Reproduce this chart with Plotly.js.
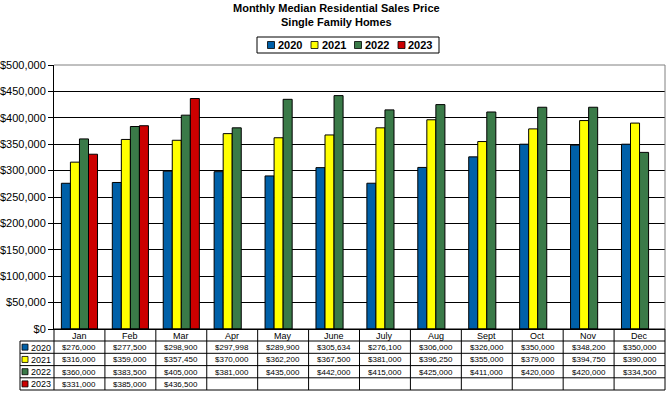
<!DOCTYPE html>
<html>
<head>
<meta charset="utf-8">
<script src="https://cdn.plot.ly/plotly-3.0.1.min.js"></script>
<style>html,body{margin:0;padding:0;background:#fff;}#chart{width:668px;height:393px;}</style>
</head>
<body>
<div id="chart"></div>
<script>
const months = ['Jan','Feb','Mar','Apr','May','June','July','Aug','Sept','Oct','Nov','Dec'];
const years = ['2020','2021','2022','2023'];
const v2020 = [276000, 277500, 298900, 297998, 289900, 305634, 276100, 306000, 326000, 350000, 348200, 350000];
const v2021 = [316000, 359000, 357450, 370000, 362200, 367500, 381000, 396250, 355000, 379000, 394750, 390000];
const v2022 = [360000, 383500, 405000, 381000, 435000, 442000, 415000, 425000, 411000, 420000, 420000, 334500];
const v2023 = [331000, 385000, 436500, null, null, null, null, null, null, null, null, null];
const titleLines = ['Monthly Median Residential Sales Price', 'Single Family Homes'];
const colors = ['#0060A8', '#FFFF00', '#3A7A48', '#CC0000'];
const series = [v2020, v2021, v2022, v2023];

// layout geometry (pixels)
const W = 668, H = 393;
const L = 54, R = 665, T = 65, B = 329;
const pw = R - L, ph = B - T;
const px = x => (x - L) / pw;
const py = y => (B - y) / ph;
const rowLines = [329, 341, 353.3, 365.6, 377.8, 390];
const tableLeft = 20;
const FF = 'Arial, Liberation Sans, sans-serif';

const traces = series.map((vals, i) => ({
  type: 'bar', x: months, y: vals, name: years[i],
  marker: {color: colors[i], line: {color: '#000', width: 1}},
  showlegend: false, hoverinfo: 'x+y+name'
}));

const shapes = [];
const annotations = [];
const fmt = v => '$' + v.toLocaleString('en-US');

// plot border top/right gray
shapes.push({type:'line', xref:'paper', yref:'paper', x0:0, x1:1, y0:1, y1:1, line:{color:'#808080', width:1}, layer:'above'});
shapes.push({type:'line', xref:'paper', yref:'paper', x0:1, x1:1, y0:0, y1:1, line:{color:'#808080', width:1}, layer:'above'});

// table horizontal lines
rowLines.forEach((y, k) => {
  shapes.push({type:'line', xref:'paper', yref:'paper', x0: k === 0 ? 0 : px(tableLeft), x1: 1, y0: py(y), y1: py(y), line:{color:'#000', width:1}});
});
// vertical lines
for (let k = 0; k <= months.length; k++) {
  shapes.push({type:'line', xref:'paper', yref:'paper', x0: k / months.length, x1: k / months.length, y0: py(rowLines[0]), y1: py(rowLines[5]), line:{color:'#000', width:1}});
}
shapes.push({type:'line', xref:'paper', yref:'paper', x0: px(tableLeft), x1: px(tableLeft), y0: py(rowLines[1]), y1: py(rowLines[5]), line:{color:'#000', width:1}});

const tfont = {family: FF, size: 8, color: '#000'};
const hfont = {family: FF, size: 9, color: '#000'};
// month header
months.forEach(m => {
  annotations.push({xref:'x', yref:'paper', x: m, y: py((rowLines[0] + rowLines[1]) / 2 + 0.5), text: m, showarrow:false, font: hfont, yanchor:'middle'});
});
// rows
series.forEach((vals, r) => {
  const yc = py((rowLines[r + 1] + rowLines[r + 2]) / 2 + 0.5);
  vals.forEach((v, i) => {
    if (v !== null) annotations.push({xref:'x', yref:'paper', x: months[i], y: yc, text: fmt(v), showarrow:false, font: tfont, yanchor:'middle'});
  });
  const ym = (rowLines[r + 1] + rowLines[r + 2]) / 2;
  shapes.push({type:'rect', xref:'paper', yref:'paper', x0: px(22), x1: px(28), y0: py(ym + 3), y1: py(ym - 3), fillcolor: colors[r], line:{color:'#000', width:0.8}});
  annotations.push({xref:'paper', yref:'paper', x: px(29), y: py(ym + 0.5), text: years[r], showarrow:false, font: hfont, xanchor:'left', yanchor:'middle'});
});

// custom legend
shapes.push({type:'rect', xref:'paper', yref:'paper', x0: px(257), x1: px(439), y0: py(53), y1: py(37), line:{color:'#000', width:1}, fillcolor:'#fff'});
const legX = [271, 314.5, 358, 401.5];
years.forEach((yr, i) => {
  shapes.push({type:'rect', xref:'paper', yref:'paper', x0: px(legX[i] - 3.5), x1: px(legX[i] + 3.5), y0: py(48.5), y1: py(41.5), fillcolor: colors[i], line:{color:'#000', width:0.8}});
  annotations.push({xref:'paper', yref:'paper', x: px(legX[i] + 5), y: py(45.5), text: '<b>' + yr + '</b>', showarrow:false, xanchor:'left', yanchor:'middle', font:{family: FF, size: 11, color:'#000'}});
});

// title
annotations.push({xref:'paper', yref:'paper', x: px(336.5), y: py(0), xanchor:'center', yanchor:'top', showarrow:false,
  text: '<b>' + titleLines.join('<br>') + '</b>', font:{family: FF, size: 11, color:'#000'}});

const layout = {
  width: W, height: H,
  margin: {l: L, r: W - R, t: T, b: H - B, pad: 0},
  paper_bgcolor: '#fff', plot_bgcolor: '#fff',
  barmode: 'group', bargap: 0.29, bargroupgap: 0,
  showlegend: false,
  xaxis: {type:'category', showticklabels:false, ticks:'', showgrid:false, showline:true, linecolor:'#000', linewidth:1, zeroline:false, range:[-0.5, 11.5], fixedrange:true},
  yaxis: {range:[0, 500000], dtick: 50000, tickformat:'$,.0f', showgrid:true, gridcolor:'#000', gridwidth:1, ticks:'outside', ticklen:5, tickcolor:'#000', showline:true, linecolor:'#000', linewidth:1, zeroline:true, zerolinecolor:'#000', tickfont:{family: FF, size: 11, color:'#000'}, fixedrange:true},
  shapes: shapes,
  annotations: annotations,
  font: {family: FF, color:'#000'}
};

Plotly.newPlot('chart', traces, layout, {displayModeBar:false, staticPlot:true});
</script>
</body>
</html>
